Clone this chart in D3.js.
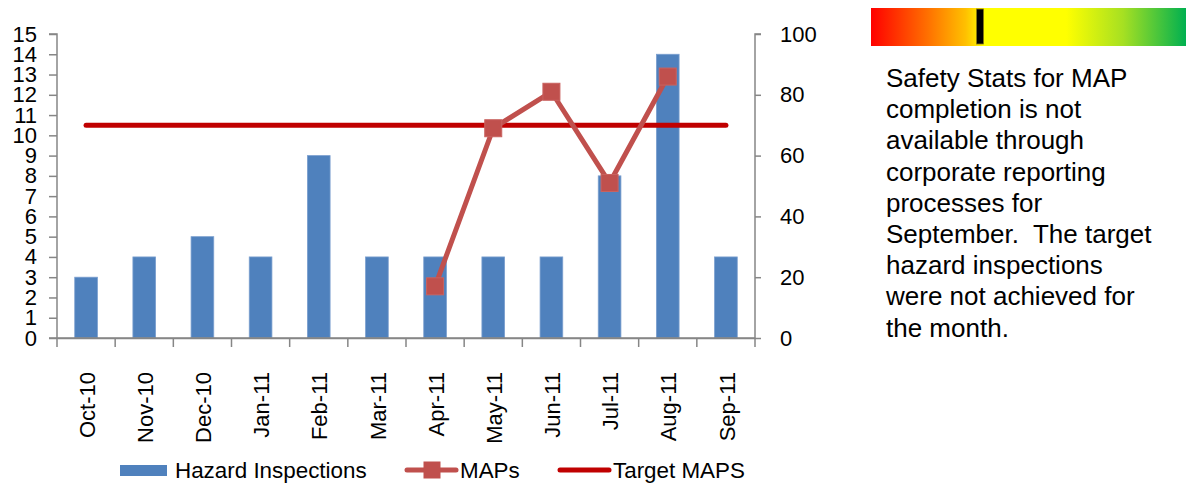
<!DOCTYPE html>
<html><head><meta charset="utf-8">
<script src="https://cdn.jsdelivr.net/npm/d3@7"></script>
<style>body{margin:0;background:#fff;} svg{display:block;font-family:"Liberation Sans",Arial,sans-serif;}</style>
</head><body><svg id="c" width="1188" height="486"></svg>
<script>
const categories = ["Oct-10","Nov-10","Dec-10","Jan-11","Feb-11","Mar-11","Apr-11","May-11","Jun-11","Jul-11","Aug-11","Sep-11"];
const hazardInspections = [3,4,5,4,9,4,4,4,4,8,14,4];
const mapsCats = ["Apr-11","May-11","Jun-11","Jul-11","Aug-11"];
const mapsValues = [17,69,81,51,86];
const targetMaps = 70;
const leftTicks = [0,1,2,3,4,5,6,7,8,9,10,11,12,13,14,15];
const rightTicks = [0,20,40,60,80,100];
const noteLines = ["Safety Stats for MAP","completion is not","available through","corporate reporting","processes for","September.  The target","hazard inspections","were not achieved for","the month."];
const gaugeValue = 0.335; // position of marker on gauge (fraction)

const svg = d3.select("#c");
const L = 57, R = 755, T = 34, B = 338;
const x = d3.scaleBand().domain(categories).range([L, R]).paddingInner(0.61).paddingOuter(0.305);
const yL = d3.scaleLinear().domain([0, 15]).range([B, T]);
const yR = d3.scaleLinear().domain([0, 100]).range([B, T]);
const axisColor = "#868686";
const fs = 22;

// bars
svg.append("g").selectAll("rect").data(categories).join("rect")
  .attr("x", d => x(d)).attr("width", x.bandwidth())
  .attr("y", (d,i) => yL(hazardInspections[i]))
  .attr("height", (d,i) => B - yL(hazardInspections[i]))
  .attr("fill", "#4f81bd").attr("stroke", "#7b9fcf").attr("stroke-width", 0.8);

// left axis
const gl = svg.append("g").attr("transform", `translate(${L},0)`)
  .call(d3.axisLeft(yL).tickValues(leftTicks).tickSize(8).tickPadding(12).tickFormat(d3.format("d")));
// right axis
const gr = svg.append("g").attr("transform", `translate(${R},0)`)
  .call(d3.axisRight(yR).tickValues(rightTicks).tickSize(6).tickPadding(19).tickFormat(d3.format("d")));
// x axis
const step = x.step();
const gx = svg.append("g").attr("transform", `translate(0,${B})`)
  .call(d3.axisBottom(x).tickSize(0).tickFormat(""));
[gl, gr, gx].forEach(g => {
  g.select(".domain").attr("stroke", axisColor).attr("stroke-width", 1.5);
  g.selectAll(".tick line").attr("stroke", axisColor).attr("stroke-width", 1.5);
  g.selectAll(".tick text").attr("fill", "#000").style("font-size", fs + "px").attr("font-family", null);
});
gl.select(".domain").attr("d", `M-8,${T}H0V${B}H-8`);
gr.select(".domain").attr("d", `M6,${T}H0V${B}H-${R-L}`);
// x ticks at band boundaries
gx.append("g").selectAll("line").data(d3.range(categories.length + 1)).join("line")
  .attr("x1", i => L + i * step).attr("x2", i => L + i * step)
  .attr("y1", 0).attr("y2", 9).attr("stroke", axisColor).attr("stroke-width", 1.5);
// x labels rotated
svg.append("g").selectAll("text").data(categories).join("text")
  .attr("transform", d => `translate(${x(d) + x.bandwidth()/2 + 1},372) rotate(-90)`)
  .attr("text-anchor", "end").attr("dy", "0.35em")
  .style("font-size", fs + "px").text(d => d);

// target line
svg.append("line")
  .attr("x1", x(categories[0]) + x.bandwidth()/2).attr("x2", x(categories[categories.length-1]) + x.bandwidth()/2)
  .attr("y1", yR(targetMaps)).attr("y2", yR(targetMaps))
  .attr("stroke", "#c00000").attr("stroke-width", 5).attr("stroke-linecap", "round");

// MAPs line
const cx = c => x(c) + x.bandwidth()/2;
svg.append("path").datum(mapsCats)
  .attr("d", d3.line().x(c => cx(c)).y((c,i) => yR(mapsValues[i])))
  .attr("fill", "none").attr("stroke", "#c0504d").attr("stroke-width", 5).attr("stroke-linejoin", "round");
const ms = 17;
svg.append("g").selectAll("rect").data(mapsCats).join("rect")
  .attr("x", c => cx(c) - ms/2).attr("y", (c,i) => yR(mapsValues[i]) - ms/2)
  .attr("width", ms).attr("height", ms).attr("fill", "#c0504d").attr("stroke", "#c9625f").attr("stroke-width", 1);

// legend
const lg = svg.append("g").style("font-size", "22.4px");
const ly = 470;
lg.append("rect").attr("x", 120).attr("y", ly - 5).attr("width", 47).attr("height", 11).attr("fill", "#4f81bd");
lg.append("text").attr("x", 175).attr("y", ly).attr("dy", "0.35em").text("Hazard Inspections");
lg.append("line").attr("x1", 407).attr("x2", 456).attr("y1", ly).attr("y2", ly).attr("stroke", "#c0504d").attr("stroke-width", 5).attr("stroke-linecap", "round");
lg.append("rect").attr("x", 432 - ms/2).attr("y", ly - ms/2).attr("width", ms).attr("height", ms).attr("fill", "#c0504d");
lg.append("text").attr("x", 460).attr("y", ly).attr("dy", "0.35em").text("MAPs");
lg.append("line").attr("x1", 560).attr("x2", 609).attr("y1", ly).attr("y2", ly).attr("stroke", "#c00000").attr("stroke-width", 5).attr("stroke-linecap", "round");
lg.append("text").attr("x", 613).attr("y", ly).attr("dy", "0.35em").text("Target MAPS");

// gauge
const defs = svg.append("defs");
const grad = defs.append("linearGradient").attr("id", "gauge").attr("x1", "0%").attr("x2", "100%");
[[0,"#ff0000"],[0.18,"#ff7000"],[0.3,"#ffc000"],[0.36,"#ffff00"],[0.62,"#ffff00"],[0.8,"#a6e022"],[1,"#00b050"]]
  .forEach(([o,c]) => grad.append("stop").attr("offset", o).attr("stop-color", c));
const gx0 = 871, gw = 315;
const gs = d3.scaleLinear().domain([0,1]).range([gx0, gx0 + gw]);
svg.append("rect").attr("x", gx0).attr("y", 8).attr("width", gw).attr("height", 38).attr("fill", "url(#gauge)");
svg.append("rect").attr("x", gs(gaugeValue)).attr("y", 9).attr("width", 7).attr("height", 35).attr("fill", "#000").attr("stroke", "#8a7a10").attr("stroke-width", 0.8);

// note
svg.append("g").selectAll("text").data(noteLines).join("text")
  .attr("x", 886).attr("y", (d,i) => 87 + i * 31.2)
  .style("font-size", "26px").attr("xml:space", "preserve").style("white-space", "pre").text(d => d);
</script></body></html>
